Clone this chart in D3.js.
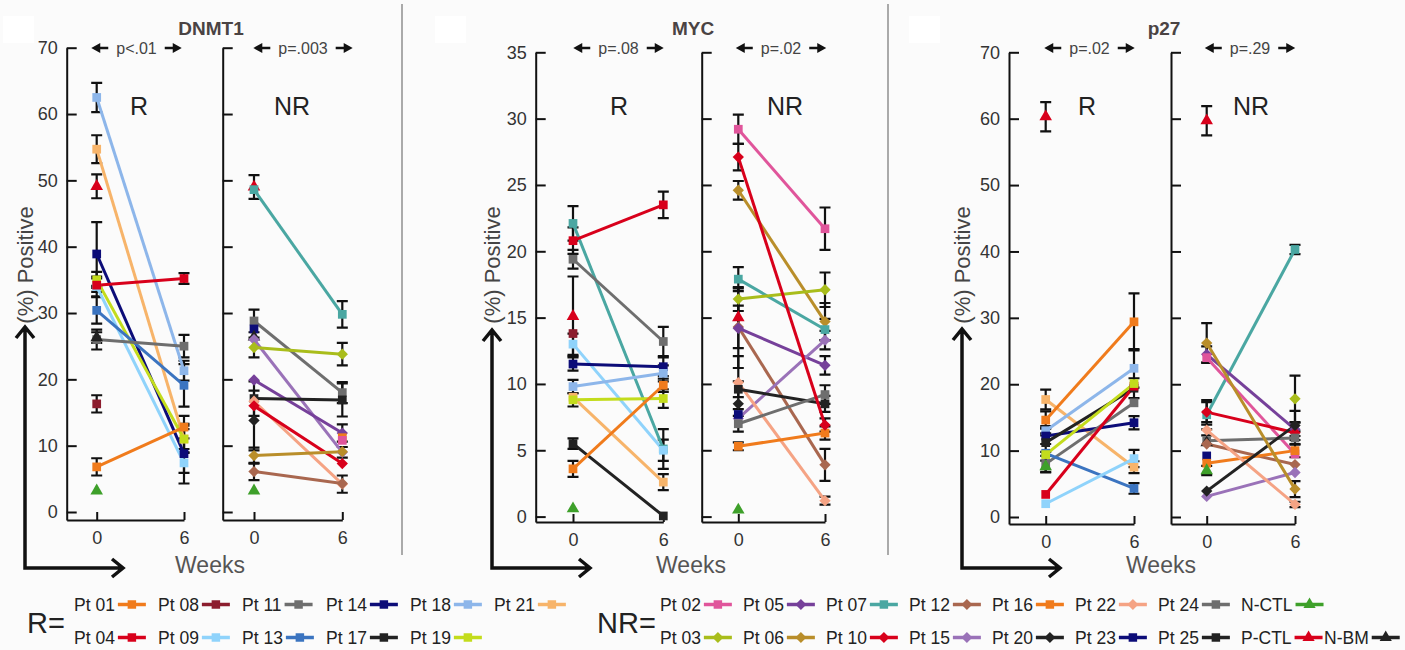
<!DOCTYPE html>
<html>
<head>
<meta charset="utf-8">
<script src="https://cdn.jsdelivr.net/npm/d3@7"></script>
<style>
  body { margin: 0; background: #fbfbfb; }
  svg { display: block; font-family: 'Liberation Sans', Arial, sans-serif; }
</style>
</head>
<body>
<svg id="chart" width="1405" height="650"></svg>
<script>
//Week values on the x axis
const weeks = [0, 6];

//Each row: [patient, week 0 value, week 0 error, week 6 value, week 6 error]  (null = none)
const dnmt1R = [
  ['Pt 18', 62.5, 2.2, 21.3, 1.5],
  ['Pt 21', 54.7, 2.1, 11.0, 2.0],
  ['P-CTL', 49.1, 1.8, null, null],
  ['Pt 14', 38.9, 4.8, 8.8, 4.5],
  ['Pt 19', 35.0, 1.2, 11.0, 1.5],
  ['Pt 09', 34.0, 1.5, 7.4, 1.5],
  ['Pt 13', 30.4, 2.0, 19.1, 3.2],
  ['Pt 11', 26.0, 1.5, 25.0, 1.7],
  ['N-BM', 26.3, 0.8, null, null],
  ['Pt 04', 34.2, 1.0, 35.2, 0.8],
  ['Pt 08', 16.3, 1.3, null, null],
  ['Pt 01', 6.8, 1.3, 12.8, 1.7],
  ['N-CTL', 3.2, null, null, null]
];
const dnmt1NR = [
  ['P-CTL', 49.0, 1.8, null, null],
  ['Pt 07', 48.6, null, 29.8, 2.0],
  ['Pt 24', 28.8, 1.7, 18.0, 1.6],
  ['Pt 23', 27.6, null, null, null],
  ['N-BM', 26.4, null, null, null],
  ['Pt 15', 26.0, null, 9.0, 0.8],
  ['Pt 03', 24.8, 1.5, 23.8, 1.7],
  ['Pt 05', 19.9, null, 11.9, 1.3],
  ['Pt 25', 17.1, 2.6, 16.9, 2.5],
  ['Pt 22', 16.7, null, 4.2, 1.3],
  ['Pt 10', 16.0, null, 7.3, null],
  ['Pt 20', 13.8, 4.5, null, null],
  ['Pt 06', 8.5, 1.2, 9.1, null],
  ['Pt 12', 6.1, 1.3, 4.3, null],
  ['Pt 16', null, null, 11.2, null],
  ['Pt 02', null, null, 10.8, null],
  ['N-CTL', 3.2, null, null, null]
];
const mycR = [
  ['Pt 07', 22.1, 1.3, 5.1, 1.5],
  ['Pt 11', 19.4, 0.7, 13.2, 1.1],
  ['P-CTL', 15.1, 3.0, null, null],
  ['Pt 08', 13.8, null, null, null],
  ['Pt 09', 13.0, 0.8, 5.0, 0.8],
  ['Pt 14', 11.5, 0.5, 11.3, 0.7],
  ['Pt 18', 9.8, 0.5, 10.8, 0.6],
  ['Pt 21', 9.0, null, 2.6, 0.6],
  ['Pt 19', 8.8, 0.5, 8.9, 0.7],
  ['Pt 17', 5.5, 0.4, 0.05, null],
  ['Pt 01', 3.6, 0.6, 9.9, 0.5],
  ['Pt 04', 20.8, 1.0, 23.5, 1.0],
  ['N-CTL', 0.6, null, null, null]
];
const mycNR = [
  ['Pt 02', 29.2, 1.1, 21.7, 1.6],
  ['Pt 06', 24.6, 0.7, 14.7, 1.4],
  ['Pt 07', 17.9, 0.9, 14.1, 0.8],
  ['Pt 03', 16.4, 0.9, 17.1, 1.3],
  ['P-CTL', 15.0, null, null, null],
  ['Pt 12', 14.3, 1.6, 3.9, 1.2],
  ['Pt 05', 14.2, 3.0, 11.4, 0.7],
  ['Pt 15', 7.4, null, 13.3, 0.7],
  ['Pt 22', 10.1, 2.0, 1.2, 0.3],
  ['Pt 25', 9.6, 0.6, 8.5, 0.6],
  ['Pt 20', 8.5, null, null, null],
  ['Pt 23', 7.7, null, null, null],
  ['Pt 24', 7.0, 0.6, 9.2, 0.7],
  ['Pt 16', 5.3, 0.3, 6.3, 0.5],
  ['Pt 10', 27.1, 1.0, 6.9, 0.5],
  ['N-CTL', 0.5, null, null, null]
];
const p27R = [
  ['P-CTL', 60.3, 2.2, null, null],
  ['Pt 21', 17.7, 1.5, 7.5, 0.9],
  ['Pt 01', 14.6, 1.3, 29.4, 4.3],
  ['Pt 18', 13.0, 0.7, 22.4, 2.9],
  ['Pt 14', 12.2, 1.2, 14.2, 1.0],
  ['Pt 11', 8.0, 1.2, 17.2, null],
  ['Pt 17', 11.2, 1.4, 19.4, 1.5],
  ['Pt 13', 9.6, null, 4.3, 0.8],
  ['Pt 09', 2.0, null, 8.8, 1.3],
  ['Pt 04', 3.4, null, 19.7, null],
  ['Pt 19', 9.4, null, 20.1, null],
  ['N-CTL', 7.6, 0.9, null, null]
];
const p27NR = [
  ['P-CTL', 59.7, 2.2, null, null],
  ['Pt 07', 15.4, 2.2, 40.3, 0.7],
  ['Pt 05', 24.5, 1.2, 13.2, 1.0],
  ['Pt 02', 24.0, null, 9.5, null],
  ['Pt 10', 15.8, 1.5, 12.7, null],
  ['Pt 24', 11.5, null, 11.9, 1.0],
  ['N-BM', 11.2, null, null, null],
  ['Pt 12', 11.0, null, 7.9, null],
  ['Pt 23', 9.2, null, null, null],
  ['Pt 16', 8.1, null, 10.0, 1.0],
  ['N-CTL', 7.0, 0.7, null, null],
  ['Pt 15', 3.1, null, 6.7, null],
  ['Pt 22', 13.1, 0.8, 1.9, 0.4],
  ['Pt 20', 3.9, null, 13.8, 2.2],
  ['Pt 06', 26.2, 3.0, 4.2, 1.2],
  ['Pt 03', null, null, 17.8, 3.5]
];

//Legend rows
const legendR = [
  ['Pt 01', 'Pt 08', 'Pt 11', 'Pt 14', 'Pt 18', 'Pt 21'],
  ['Pt 04', 'Pt 09', 'Pt 13', 'Pt 17', 'Pt 19']
];
const legendNR = [
  ['Pt 02', 'Pt 05', 'Pt 07', 'Pt 12', 'Pt 16', 'Pt 22', 'Pt 24', 'N-CTL'],
  ['Pt 03', 'Pt 06', 'Pt 10', 'Pt 15', 'Pt 20', 'Pt 23', 'Pt 25', 'P-CTL', 'N-BM']
];

//Colour and marker for each patient
const colors = {
  'Pt 01': '#f07b1c', 'Pt 04': '#d8001b', 'Pt 08': '#8c1d2e', 'Pt 09': '#8fd3fb',
  'Pt 11': '#6e6e6e', 'Pt 13': '#3b74c0', 'Pt 14': '#0c0c78', 'Pt 17': '#222222',
  'Pt 18': '#8db6ea', 'Pt 19': '#c3dc1c', 'Pt 21': '#f7b46a',
  'Pt 02': '#e0559b', 'Pt 03': '#a9bd1b', 'Pt 05': '#76409a', 'Pt 06': '#b98e2a',
  'Pt 07': '#4aa7a2', 'Pt 10': '#d8001b', 'Pt 12': '#a9674f', 'Pt 15': '#9a72b8',
  'Pt 16': '#f07b1c', 'Pt 20': '#222222', 'Pt 22': '#f5a384', 'Pt 23': '#0c0c78',
  'Pt 24': '#6e6e6e', 'Pt 25': '#222222',
  'N-CTL': '#3ea02a', 'P-CTL': '#d8001b', 'N-BM': '#222222'
};
const diamonds = ['Pt 03', 'Pt 05', 'Pt 06', 'Pt 10', 'Pt 12', 'Pt 15', 'Pt 20', 'Pt 22'];
const triangles = ['N-CTL', 'P-CTL', 'N-BM'];

//Panel layout
const panels = [
  { title: 'DNMT1', titleX: 211, yMax: 70, step: 10, yTop: 47.7, yZero: 512, yBase: 520,
    yLabelX: 33, arrowX: 25, arrowTop: 327, arrowRight: 123, weeksX: 210,
    groups: [
      { label: 'R', data: dnmt1R, p: 'p<.01', axisX: 66.7, x0: 96.7, x6: 184, pX: 136.5, labelX: 139 },
      { label: 'NR', data: dnmt1NR, p: 'p=.003', axisX: 222.7, x0: 254, x6: 342.3, pX: 303, labelX: 292 }
    ] },
  { title: 'MYC', titleX: 693, yMax: 35, step: 5, yTop: 52.3, yZero: 516.6, yBase: 522,
    yLabelX: 500, arrowX: 492, arrowTop: 330, arrowRight: 590, weeksX: 691,
    groups: [
      { label: 'R', data: mycR, p: 'p=.08', axisX: 535.7, x0: 573, x6: 663.3, pX: 618.5, labelX: 619 },
      { label: 'NR', data: mycNR, p: 'p=.02', axisX: 701.7, x0: 738.3, x6: 825, pX: 781, labelX: 785 }
    ] },
  { title: 'p27', titleX: 1164, yMax: 70, step: 10, yTop: 52.3, yZero: 517, yBase: 524,
    yLabelX: 970, arrowX: 962, arrowTop: 329, arrowRight: 1060, weeksX: 1161,
    groups: [
      { label: 'R', data: p27R, p: 'p=.02', axisX: 1009, x0: 1045.7, x6: 1134, pX: 1089.5, labelX: 1087 },
      { label: 'NR', data: p27NR, p: 'p=.29', axisX: 1171, x0: 1206.7, x6: 1295, pX: 1250, labelX: 1251 }
    ] }
];

const svg = d3.select('#chart');

//White patches in the corners of each panel
[3, 435, 909].forEach(px => {
  svg.append('rect').attr('x', px).attr('y', 16).attr('width', 31).attr('height', 27).attr('fill', '#fff');
});

//Separators
[402, 888].forEach(sx => {
  svg.append('line').attr('x1', sx).attr('x2', sx).attr('y1', 4).attr('y2', 555)
    .attr('stroke', '#aaa').attr('stroke-width', 2);
});

function symbolPath(id, size) {
  if (triangles.includes(id)) return d3.symbol().type(d3.symbolTriangle).size(size * 0.9)();
  return d3.symbol().type(d3.symbolSquare).size(size)();
}
function symbolRotate(id) {
  return diamonds.includes(id) ? 45 : 0;
}

function pArrows(g, cx, cy, label) {
  let t = g.append('text').attr('x', cx).attr('y', cy + 5.5).attr('text-anchor', 'middle')
    .attr('font-size', 16).attr('fill', '#444').text(label);
  let w = t.node().getComputedTextLength();
  let l = cx - w / 2 - 8;
  let r = cx + w / 2 + 8;
  g.append('path')
    .attr('d', `M${l - 17},${cy} L${l - 8},${cy - 5} L${l - 8},${cy - 1.2} L${l},${cy - 1.2} L${l},${cy + 1.2} L${l - 8},${cy + 1.2} L${l - 8},${cy + 5} Z`)
    .attr('fill', '#111');
  g.append('path')
    .attr('d', `M${r + 17},${cy} L${r + 8},${cy - 5} L${r + 8},${cy - 1.2} L${r},${cy - 1.2} L${r},${cy + 1.2} L${r + 8},${cy + 1.2} L${r + 8},${cy + 5} Z`)
    .attr('fill', '#111');
}

panels.forEach(panel => {
  let pg = svg.append('g');

  //Title
  pg.append('text').attr('x', panel.titleX).attr('y', 35).attr('text-anchor', 'middle')
    .attr('font-size', 19).attr('font-weight', 'bold').attr('fill', '#4a4343').text(panel.title);

  //Y scale, extended a little below 0 so the axis meets the baseline
  let baseVal = -(panel.yBase - panel.yZero) / (panel.yZero - panel.yTop) * panel.yMax;
  let y = d3.scaleLinear().domain([baseVal, panel.yMax]).range([panel.yBase, panel.yTop]);

  panel.groups.forEach((grp, gi) => {
    let xMin = -(grp.x0 - grp.axisX) / (grp.x6 - grp.x0) * 6;
    let x = d3.scaleLinear().domain([xMin, 6]).range([grp.axisX, grp.x6]);
    let g = pg.append('g');

    //Axes (only the first group of a panel shows y tick labels)
    g.append('g')
      .attr('transform', `translate(${grp.axisX},0)`)
      .call(d3.axisLeft(y).tickValues(d3.range(0, panel.yMax + 1, panel.step))
        .tickSizeInner(-10).tickSizeOuter(0).tickPadding(9)
        .tickFormat(gi === 0 ? d3.format('d') : () => ''))
      .call(a => a.selectAll('path,line').attr('stroke', '#111').attr('stroke-width', 2))
      .call(a => a.selectAll('text').attr('font-size', 18).attr('fill', '#333')
        .attr('font-family', "'Liberation Sans', Arial, sans-serif"));

    g.append('g')
      .attr('transform', `translate(0,${panel.yBase})`)
      .call(d3.axisBottom(x).tickValues(weeks).tickSizeInner(-8).tickSizeOuter(0).tickPadding(11))
      .call(a => a.selectAll('path,line').attr('stroke', '#111').attr('stroke-width', 2))
      .call(a => a.selectAll('text').attr('font-size', 18).attr('fill', '#333')
        .attr('font-family', "'Liberation Sans', Arial, sans-serif"));

    //p value label with arrows
    pArrows(g, grp.pX, 48, grp.p);

    //Group label
    g.append('text').attr('x', grp.labelX).attr('y', 115).attr('text-anchor', 'middle')
      .attr('font-size', 25).attr('fill', '#222').text(grp.label);

    let rows = grp.data.map(d => ({
      id: d[0],
      pts: [
        { w: weeks[0], v: d[1], e: d[2] },
        { w: weeks[1], v: d[3], e: d[4] }
      ].filter(p => p.v !== null)
    }));

    //Error bars
    rows.forEach(row => {
      row.pts.filter(p => p.e !== null).forEach(p => {
        let cx = x(p.w), top = y(p.v + p.e), bot = y(p.v - p.e);
        g.append('path')
          .attr('d', `M${cx},${top} V${bot} M${cx - 5.5},${top} H${cx + 5.5} M${cx - 5.5},${bot} H${cx + 5.5}`)
          .attr('stroke', '#111').attr('stroke-width', 2.2).attr('fill', 'none');
      });
    });

    //Lines
    let line = d3.line().x(p => x(p.w)).y(p => y(p.v));
    rows.filter(r => r.pts.length === 2).forEach(row => {
      g.append('path').datum(row.pts).attr('d', line)
        .attr('stroke', colors[row.id]).attr('stroke-width', 3).attr('fill', 'none');
    });

    //Markers
    rows.forEach(row => {
      row.pts.forEach(p => {
        g.append('path').attr('d', symbolPath(row.id, diamonds.includes(row.id) ? 64 : 76))
          .attr('transform', `translate(${x(p.w)},${y(p.v)}) rotate(${symbolRotate(row.id)})`)
          .attr('fill', colors[row.id]);
      });
    });
  });

  //Y label
  pg.append('text')
    .attr('transform', `translate(${panel.yLabelX},265) rotate(-90)`)
    .attr('text-anchor', 'middle').attr('font-size', 22).attr('fill', '#444').text('(%) Positive');

  //L shaped arrow
  let ax = panel.arrowX, ab = 568;
  pg.append('path')
    .attr('d', `M${ax},${panel.arrowTop} V${ab} H${panel.arrowRight}
      M${ax - 9},${panel.arrowTop + 11} L${ax},${panel.arrowTop} L${ax + 9},${panel.arrowTop + 11}
      M${panel.arrowRight - 11},${ab - 9} L${panel.arrowRight},${ab} L${panel.arrowRight - 11},${ab + 9}`)
    .attr('stroke', '#111').attr('stroke-width', 3.5).attr('fill', 'none');

  //Weeks label
  pg.append('text').attr('x', panel.weeksX).attr('y', 573).attr('text-anchor', 'middle')
    .attr('font-size', 23).attr('fill', '#555').text('Weeks');
});

//Legend
const legendFont = "'Liberation Sans', Arial, sans-serif";
const rowY = [611, 644];

function drawLegend(rows, startX, step, label, labelX) {
  svg.append('text').attr('x', labelX).attr('y', 633).attr('font-size', 29)
    .attr('fill', '#222').attr('font-family', legendFont).text(label);
  rows.forEach((row, r) => {
    row.forEach((id, i) => {
      let gx = startX + i * step, gy = rowY[r];
      let t = svg.append('text').attr('x', gx).attr('y', gy).attr('font-size', 17.5)
        .attr('fill', '#222').attr('font-family', legendFont).text(id);
      let w = t.node().getComputedTextLength();
      let my = gy - 6.5;
      svg.append('line').attr('x1', gx + w + 3).attr('x2', gx + w + 31)
        .attr('y1', my).attr('y2', my).attr('stroke', colors[id]).attr('stroke-width', 3.5);
      svg.append('path').attr('d', symbolPath(id, diamonds.includes(id) ? 60 : 72))
        .attr('transform', `translate(${gx + w + 17},${my}) rotate(${symbolRotate(id)})`)
        .attr('fill', colors[id]);
    });
  });
}

drawLegend(legendR, 74, 84, 'R=', 27);
drawLegend(legendNR, 660, 83, 'NR=', 597);
</script>
</body>
</html>
